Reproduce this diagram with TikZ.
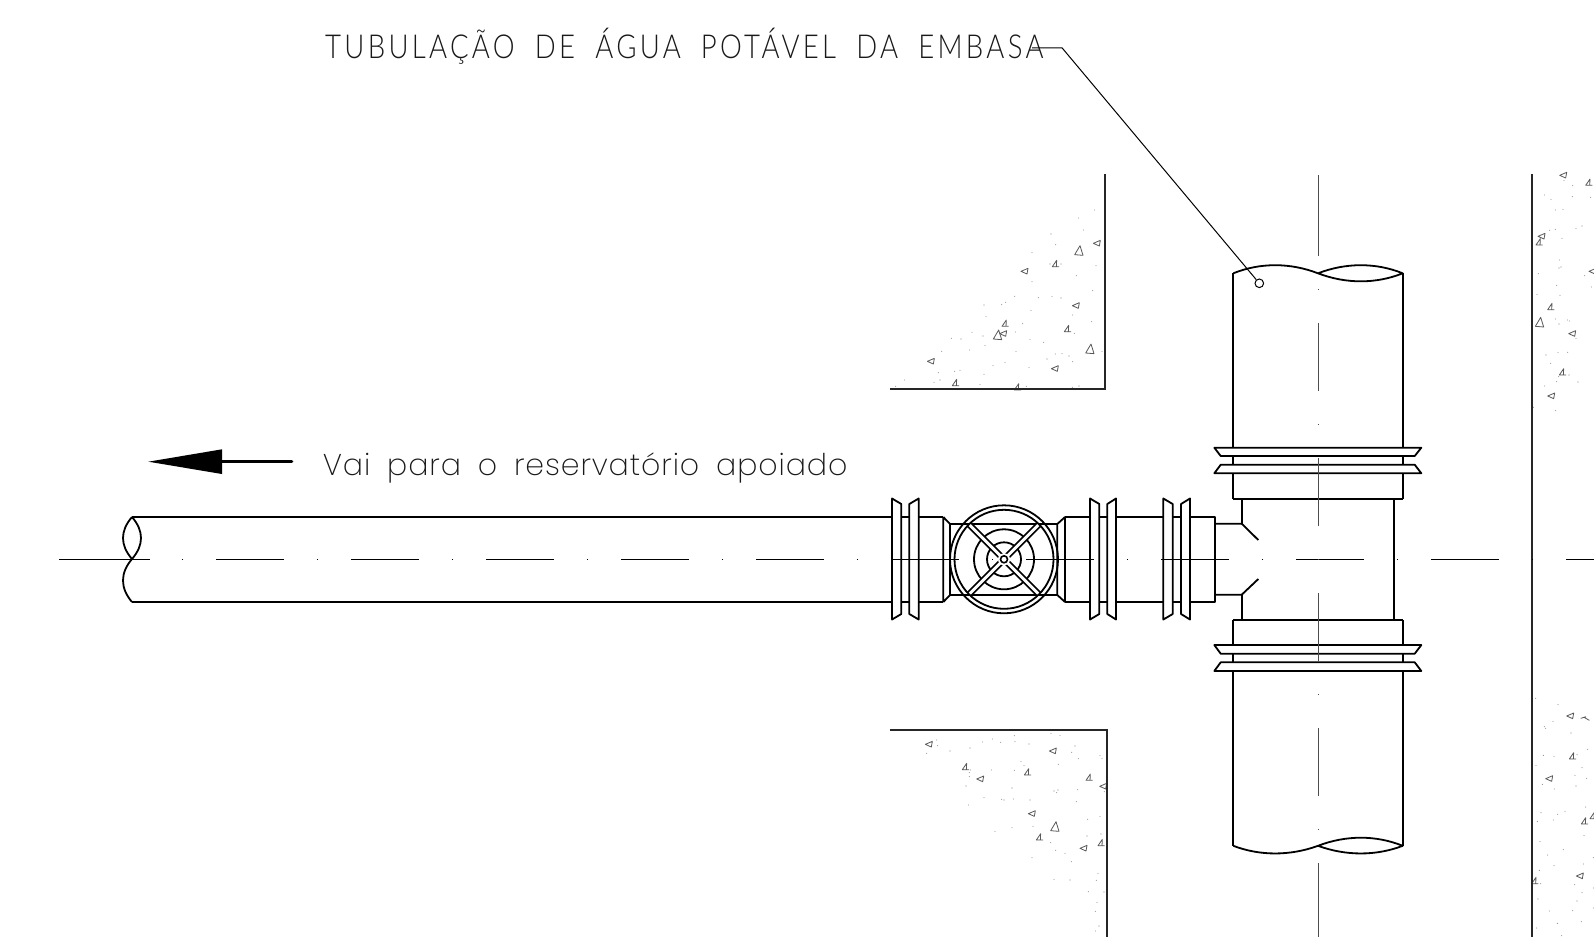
\documentclass[tikz,border=0pt]{standalone}
\usepackage{fontspec}
\setmainfont{Liberation Sans}
\newfontfamily\capsfont[LetterSpace=12]{Lato Light}
\newfontfamily\lowfont[LetterSpace=3,WordSpace=1.8]{Poppins ExtraLight}
\tikzset{
  pipeline/.style={line width=1.8pt,line join=round,draw=black},
  flangeshape/.style={line width=1.8pt,line join=round,draw=black,fill=white},
  wallline/.style={line width=2.3pt,draw=black!85,line cap=butt},
  axisline/.style={line width=1pt,draw=black},
  axisdash/.style={line width=1pt,draw=black,dash pattern=on 0.8pt off 33.4pt on 67.8pt off 33pt},
  vaxisline/.style={line width=1pt,draw=black!70},
  vaxisdash/.style={line width=1pt,draw=black!70,dash pattern=on 0.8pt off 33.4pt on 67.8pt off 33pt},
  grit/.style={draw=black!65,line width=0.8pt,line join=round},
  speck/.style={fill=black!45},
  zoomA/.style={shift={(880,170)},x=0.33333pt,y=-0.33333pt},
  zoomB/.style={shift={(880,720)},x=0.33333pt,y=-0.33333pt},
  zoomC/.style={shift={(1510,160)},x=0.33333pt,y=-0.33333pt},
  zoomD/.style={shift={(1510,690)},x=0.33333pt,y=-0.33333pt},
}
\newcommand{\triA}[1]{\foreach \p/\q in {#1}{\draw[grit] (\p-11,\q+1) -- (\p+10,\q-8) -- (\p+7,\q+9) -- cycle;}}
\newcommand{\triB}[1]{\foreach \p/\q in {#1}{\draw[grit] (\p+3,\q-11) -- (\p-10,\q+8) -- (\p+10,\q+8) (\p+3,\q-11) -- (\p+2,\q+8) -- cycle;}}
\newcommand{\triC}[1]{\foreach \p/\q in {#1}{\draw[grit] (\p+4,\q-15) -- (\p-12,\q+12) -- (\p+13,\q+14) -- cycle;}}
\newcommand{\specks}[1]{\foreach \p/\q in {#1}{\fill[speck] (\p,\q) circle[radius=0.55pt];}}
\newcommand{\hflange}[4]{%
  \draw[flangeshape] (#1,498.5) -- (#2,504) -- (#2,614) -- (#1,619.5) -- cycle;
  \draw[flangeshape] (#4,498.5) -- (#3,504) -- (#3,614) -- (#4,619.5) -- cycle;}
\begin{document}
\begin{tikzpicture}[x=1pt,y=-1pt]
\useasboundingbox (0,0) rectangle (1594,937);
\clip (0,0) rectangle (1594,937);
\fill[white] (0,0) rectangle (1594,937);

% concrete
\begin{scope}[zoomA]
\triA{651/219,434/303,588/406,370/490,153/573,525/595}
\triB{527/282,376/461,563/477,227/639,413/652}
\triC{596/242,352/495,629/537}
\specks{644/120,596/144,611/180,513/192,527/224,456/248,510/282,543/282,648/287,589/317,456/335,638/362,404/379,475/383,516/379,543/384,377/397,365/404,312/405,453/421,578/435,318/440,635/455,428/461,276/487,407/486,583/490,309/498,243/507,214/505,450/508,491/517,315/527,269/540,185/544,408/545,526/552,546/551,567/558,501/567,578/575,375/578,339/587,447/593,240/601,224/604,175/608,312/613,73/630,162/637,180/630,300/643,47/649,597/648,577/652,439/649,666/545}
\end{scope}
\begin{scope}[zoomB]
\triA{147/72,519/92,301/176,456/280,611/384,670/198}
\triB{257/141,443/157,628/173,479/352,664/369}
\triC{524/320}
\specks{170/60,173/77,140/100,210/93,270/84,308/66,337/57,362/67,403/47,405/65,447/72,513/40,540/47,585/78,575/97,595/116,660/107,666/116,535/133,423/124,432/137,403/151,334/150,272/150,268/158,268/170,258/198,396/204,312/233,365/238,372/240,400/237,450/240,265/255,522/213,534/210,530/218,593/209,589/245,673/215,660/289,623/298,396/323,345/335,459/319,663/342,621/348,512/368,527/391,555/400,574/425,456/413,654/461,649/481,522/478,570/480,625/515,672/516,651/547,646/574,657/618,647/633}
\end{scope}
\begin{scope}[zoomC]
\triA{95/228,187/520,124/707,160/45,248/333}
\triB{237/68,88/247,123/441,158/637}
\triC{88/487}
\specks{162/62,188/77,242/112,187/110,103/105,123/118,136/150,159/148,216/198,198/205,136/208,119/211,156/235,149/300,153/321,147/324,85/341,224/347,245/381,140/376,81/403,150/406,136/477,147/492,173/480,178/483,198/535,108/585,144/578,173/577,122/610,146/650,177/645,140/665,204/666,104/678,70/742,137/752}
\end{scope}
\begin{scope}[zoomD]
\triA{181/77,118/265,210/557}
\triB{188/199,224/394,75/573,250/378}
\draw[grit] (212,85) -- (228,80) (222,82) -- (238,91);
\specks{77/25,144/44,129/94,103/110,107/115,183/129,233/178,100/196,132/199,201/194,78/226,216/233,195/256,230/265,97/283,198/288,133/297,93/368,143/373,165/364,82/394,130/390,227/351,222/437,90/455,160/479,113/495,132/527,250/503,220/522,88/541,92/581,194/584,250/594,216/608,84/627,201/633,118/663,188/662,250/654,214/695,142/700,80/714,155/737}
\end{scope}

% walls
\draw[wallline] (890,389) -- (1105.3,389) -- (1105.3,174);
\draw[wallline] (890,730.3) -- (1106.7,730.3) -- (1106.7,937);
\draw[wallline] (1532.3,174) -- (1532.3,937);

% horizontal pipe with break
\draw[pipeline] (132,517) -- (943.3,517) (132,602) -- (943.3,602);
\draw[pipeline] (132,517) .. controls (120,531) and (120,545) .. (132,559)
                .. controls (144,545) and (144,531) .. (132,517);
\draw[pipeline] (132,559) .. controls (120,573) and (120,588) .. (132,602);

% valve body and following pipe
\draw[pipeline] (943.3,517) -- (943.3,602) (950,524) -- (950,595)
  (943.3,517) -- (950,524) (943.3,602) -- (950,595);
\draw[pipeline] (950,524) -- (1057.3,524) (950,595) -- (1057.3,595);
\draw[pipeline] (1057.3,524) -- (1057.3,595) (1065,517) -- (1065,602)
  (1057.3,524) -- (1065,517) (1057.3,595) -- (1065,602);
\draw[pipeline] (1065,517) -- (1215.3,517) -- (1215.3,602) -- (1065,602);
\draw[pipeline] (1215.3,523.7) -- (1241.7,523.7) -- (1258.3,540);
\draw[pipeline] (1215.3,594.7) -- (1241.7,594.7) -- (1258.3,579);

% flanges on the horizontal run
\hflange{892}{901.3}{909.3}{918.7}
\hflange{1090}{1099.3}{1107.3}{1116}
\hflange{1163.3}{1172.7}{1181}{1190}

% handwheel
\begin{scope}[shift={(1004,559.3)}]
  \draw[line width=1.8pt] (0,0) circle[radius=30pt];
  \draw[line width=1.8pt] (0,0) circle[radius=17pt];
  \foreach \r in {45,135}{
    \begin{scope}[rotate=\r]
      \fill[white] (-49.5,-2.4) rectangle (49.5,2.4);
      \draw[line width=1.6pt] (-49.5,-2.4) -- (49.5,-2.4) (-49.5,2.4) -- (49.5,2.4);
    \end{scope}}
  \fill[white] (0,0) circle[radius=6pt];
  \draw[line width=1.8pt] (0,0) circle[radius=54pt];
  \draw[line width=1.8pt] (0,0) circle[radius=49.5pt];
  \draw[line width=1.6pt,fill=white] (0,0) circle[radius=3.5pt];
\end{scope}

% tee and vertical pipe
\draw[pipeline] (1241.7,523.7) -- (1241.7,499) (1241.7,594.7) -- (1241.7,620);
\draw[pipeline] (1394.3,499) -- (1394.3,620);
\draw[pipeline] (1233.3,499) -- (1402.7,499) (1233.3,620) -- (1402.7,620);
\draw[pipeline] (1233.3,273.3) -- (1233.3,499) (1402.7,273.3) -- (1402.7,499);
\draw[pipeline] (1233.3,620) -- (1233.3,845.8) (1402.7,620) -- (1402.7,845.8);
% top break
\draw[pipeline] (1233.3,273.3) .. controls (1260,262.5) and (1290,262.5) .. (1318,273.3)
                .. controls (1346,284) and (1376,284) .. (1402.7,273.3)
                .. controls (1376,262.5) and (1346,262.5) .. (1318,273.3);
% bottom break
\draw[pipeline] (1233.3,845.8) .. controls (1260,856) and (1290,856) .. (1318,845.8)
                .. controls (1346,835) and (1376,835) .. (1402.7,845.8)
                .. controls (1376,856) and (1346,856) .. (1318,845.8);
% flanges on the vertical run
\draw[flangeshape] (1214.3,447.7) -- (1421.3,447.7) -- (1414.7,456) -- (1220.7,456) -- cycle;
\draw[flangeshape] (1220.7,464.7) -- (1414.7,464.7) -- (1421.3,473.3) -- (1214.3,473.3) -- cycle;
\draw[flangeshape] (1214.3,645) -- (1421.3,645) -- (1414.7,653.7) -- (1220.7,653.7) -- cycle;
\draw[flangeshape] (1220.7,662.3) -- (1414.7,662.3) -- (1421.3,671) -- (1214.3,671) -- cycle;

% centre lines
\draw[axisline] (59,559) -- (149.5,559);
\draw[axisdash] (182,559) -- (1594,559);
\draw[vaxisline] (1318,175) -- (1318,255.7);
\draw[vaxisdash] (1318,289) -- (1318,937);
\draw[vaxisline] (1318,925) -- (1318,937);

% arrow
\coordinate (arrowtail) at (291.7,461.7);
\coordinate (arrowbase) at (222,461.7);
\draw[line width=3.4pt,line cap=round] (arrowtail) -- (arrowbase);
\fill (148.3,461.7) -- (222,449.3) -- (222,474) -- cycle;

% texts
\node[anchor=base west,inner sep=0pt,text=black!90] (lbl) at (325,58.5)
  {\capsfont\fontsize{33}{33}\selectfont\scalebox{0.835}[1]{TUBULAÇÃO\hspace{0.34em} DE\hspace{0.34em} ÁGUA\hspace{0.34em} POTÁVEL\hspace{0.34em} DA\hspace{0.34em} EMBASA}};
\node[anchor=base west,inner sep=0pt,text=black!90] (dest) at (322.7,475)
  {\lowfont\fontsize{30}{30}\selectfont Vai para o reservatório apoiado};

% leader
\coordinate (leaderstart) at (1032,47.8);
\coordinate (leaderknee) at (1062,47.8);
\node[circle,draw,line width=1pt,minimum size=8.6pt,inner sep=0pt] (leaderdot) at (1259.3,283.3) {};
\draw[line width=1pt] (leaderstart) -- (leaderknee) -- (leaderdot);
\end{tikzpicture}
\end{document}
